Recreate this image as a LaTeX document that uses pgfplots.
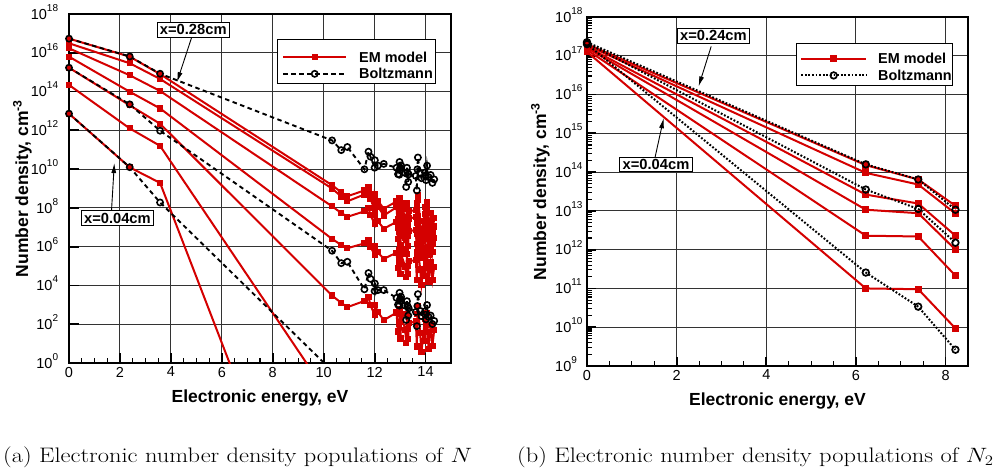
\documentclass[border=0pt]{standalone}
\usepackage{fontspec}
\usepackage{pgfplots}
\pgfplotsset{compat=1.18}
\usepackage{pgfplotstable}
\usetikzlibrary{arrows.meta}
\newfontfamily\hv{Liberation Sans}
\definecolor{emred}{RGB}{212,0,0}
% tick label of the form 10^k, set in text font
\newcommand{\tl}[1]{10\raisebox{7.8pt}{\fontsize{10}{10}\selectfont #1}}

% N atom: level energy (eV) and log10 of number density (cm^-3)
\pgfplotstableread{
E     B1    B2    C1    C2    C3    C4    C5
0.000 16.73 15.23 16.73 16.49 16.23 15.80 15.23
2.384 15.81 13.34 15.80 15.46 14.84 13.99 13.29
3.576 14.92 11.98 14.90 14.65 14.03 13.13 12.34
10.33 11.48 5.79  9.17  9.00  8.08  6.40  3.48
10.69 10.98 5.15  8.81  8.59  7.74  6.09  3.10
10.93 11.14 5.22  8.60  8.34  7.54  5.92  2.88
11.60 9.99  3.80  8.90  8.69  7.82  6.17  3.20
11.76 10.90 4.64  9.08  8.90  7.99  6.32  3.39
11.84 10.64 4.34  8.69  8.45  7.62  5.99  2.98
12.00 10.07 3.71  8.22  7.91  7.18  5.59  2.48
12.01 10.46 4.10  8.72  8.48  7.65  6.02  3.01
12.13 10.18 3.76  8.36  8.07  7.31  5.71  2.63
12.36 10.27 3.76  7.96  7.61  6.93  5.37  2.21
12.86 10.07 3.36  8.33  8.03  7.28  5.69  2.60
12.92 9.74  3.01  7.40  6.96  6.40  4.90  1.62
12.97 9.71  2.96  7.78  7.40  6.76  5.22  2.02
12.98 10.37 3.62  8.48  8.21  7.42  5.81  2.76
13.00 10.06 3.30  7.87  7.50  6.84  5.29  2.11
13.02 9.98  3.21  7.06  6.57  6.08  4.61  1.26
13.04 10.19 3.41  8.25  7.94  7.21  5.62  2.51
13.20 9.80  2.96  7.48  7.06  6.47  4.96  1.71
13.24 9.08  2.22  6.86  6.34  5.89  4.44  1.05
13.27 10.07 3.19  8.25  7.94  7.21  5.62  2.51
13.29 9.83  2.95  7.54  7.13  6.53  5.01  1.77
13.32 9.34  2.45  7.02  6.53  6.04  4.57  1.22
13.34 9.73  2.82  7.82  7.45  6.80  5.25  2.06
13.62 9.65  2.63  7.89  7.53  6.86  5.31  2.14
13.66 8.90  1.90  6.67  6.12  5.70  4.27  0.85
13.68 9.99  2.94  8.26  7.95  7.22  5.63  2.52
13.70 10.60 3.55  8.65  8.40  7.59  5.96  2.93
13.79 9.78  2.69  7.31  6.86  6.31  4.82  1.53
13.84 9.53  2.42  6.39  5.80  5.44  4.04  0.56
13.98 9.82  2.66  8.03  7.69  7.00  5.43  2.28
14.00 9.66  2.49  6.92  6.41  5.94  4.49  1.12
14.02 9.43  2.25  7.71  7.32  6.69  5.16  1.95
14.06 10.18 2.99  8.29  7.99  7.24  5.65  2.56
14.12 9.59  2.38  6.56  6.00  5.60  4.18  0.74
14.20 9.70  2.45  7.73  7.34  6.71  5.18  1.97
14.27 9.29  2.01  6.70  6.16  5.73  4.30  0.89
14.34 9.47  2.17  7.47  7.04  6.46  4.95  1.69
}\atomN

% N atom, lowest populations (leave the plot range after 3.6 eV)
\pgfplotstableread{
E     B3    C6    C7
0.000 12.86 14.34 12.86
2.384 10.10 12.10 10.09
3.576 8.28  11.20 9.29
10.33 -0.40 -1.96 -13.70
}\atomNlow

% N2 molecule: level energy (eV) and log10 of number density (cm^-3)
\pgfplotstableread{
E    B1    B2    B3    R1    R2    R3    R4    R5    R6
0.00 17.35 17.33 17.30 17.30 17.27 17.23 17.20 17.15 17.10
6.22 14.20 13.55 11.41 14.18 13.98 13.42 13.03 12.36 11.00
7.39 13.81 13.05 10.53 13.81 13.68 13.19 12.94 12.34 10.98
8.22 13.03 12.18 9.42  13.13 12.93 12.36 12.00 11.33 9.97
}\molN

\pgfplotsset{
  emline/.style={color=emred, line width=2pt, mark=square*,
    mark size=2.6pt, mark options={solid, line width=1pt}},
  emlineb/.style={color=emred, line width=2pt, mark=square*,
    mark size=2.9pt, mark options={solid, line width=1pt}},
  bzdash/.style={black, line width=1.9pt, dash pattern=on 4.5pt off 3.5pt,
    mark=o, mark size=3.1pt, mark options={solid, line width=1.6pt}},
  bzdot/.style={black, line width=2pt, dash pattern=on 1.8pt off 1.8pt,
    mark=o, mark size=3.3pt, mark options={solid, line width=1.7pt}},
}
\tikzset{
  tagbox/.style={draw=black, line width=0.9pt, fill=white, inner xsep=3pt,
    inner ysep=2.2pt, text height=10.5pt, text depth=0pt,
    font=\hv\bfseries\fontsize{14.7}{16}\selectfont},
  tagarrow/.style={line width=0.9pt, -{Latex[length=10pt,width=5pt]}},
}

\begin{document}
\begin{tikzpicture}
\path[use as bounding box] (0,0) rectangle (998pt,472pt);

% ---------------- (a) N ----------------
\begin{axis}[
  scale only axis, ymode=log, anchor=south west,
  at={(69pt,109pt)}, width=382pt, height=349pt,
  tick align=inside, tick pos=left,
  axis line style={line width=1.8pt},
  grid=major, major grid style={black!80, line width=1pt},
  major tick style={black, line width=1.8pt},
  minor tick style={black, line width=1.1pt},
  major tick length=10pt, minor tick length=5pt,
  ticklabel style={font=\hv\fontsize{14.5}{16}\selectfont},
  xticklabel style={anchor=north, inner sep=0pt, yshift=-3.7pt},
  xmin=0, xmax=15, ymin=1, ymax=1e18,
  xtick={0,2,4,6,8,10,12,14}, xticklabels={0,2,4,6,8,10,12,14},
  minor x tick num=3,
  ytick={1,1e2,1e4,1e6,1e8,1e10,1e12,1e14,1e16,1e18},
  yticklabels={\tl{0},\tl{2},\tl{4},\tl{6},\tl{8},\tl{10},\tl{12},\tl{14},\tl{16},\tl{18}},
  yminorticks=false,
  yticklabel style={anchor=base east, inner sep=0pt, xshift=-10.7pt, yshift=-5.2pt},
  legend cell align=left,
  legend style={draw=none, fill=none, anchor=north west, inner sep=0pt,
    at={(rel axis cs:0.5576,0.892)},
    row sep=6.5pt, column sep=12pt,
    nodes={inner sep=0pt, text height=10.3pt, text depth=0pt,
      font=\hv\bfseries\fontsize{14.4}{16}\selectfont}},
  legend image code/.code={\draw[mark repeat=2,mark phase=2]
    plot coordinates {(0pt,0pt) (31.5pt,0pt) (63pt,0pt)};},
]
\addplot[emline] table[x=E, y expr=10^(\thisrow{C1})] {\atomN};
\addlegendentry{EM model}
\addplot[emline, forget plot] table[x=E, y expr=10^(\thisrow{C2})] {\atomN};
\addplot[emline, forget plot] table[x=E, y expr=10^(\thisrow{C3})] {\atomN};
\addplot[emline, forget plot] table[x=E, y expr=10^(\thisrow{C4})] {\atomN};
\addplot[emline, forget plot] table[x=E, y expr=10^(\thisrow{C5})] {\atomN};
\addplot[emline, forget plot] table[x=E, y expr=10^(\thisrow{C6})] {\atomNlow};
\addplot[emline, forget plot] table[x=E, y expr=10^(\thisrow{C7})] {\atomNlow};
\addplot[bzdash] table[x=E, y expr=10^(\thisrow{B1})] {\atomN};
\addlegendentry{Boltzmann}
\addplot[bzdash, forget plot] table[x=E, y expr=10^(\thisrow{B2})] {\atomN};
\addplot[bzdash, forget plot] table[x=E, y expr=10^(\thisrow{B3})] {\atomNlow};
\draw[fill=white, line width=0.9pt] (rel axis cs:0.5445,0.9275) rectangle (rel axis cs:0.958,0.8014);
\draw[tagarrow] (axis cs:4.82,6.46e16) -- (axis cs:4.24,3.09e14);
\node[tagbox] at (axis cs:4.88,1.58e17) {x=0.28cm};
\draw[tagarrow] (axis cs:1.67,7.59e7) -- (axis cs:1.78,2.04e10);
\node[tagbox] at (axis cs:1.90,2.88e7) {x=0.04cm};
\end{axis}

% ---------------- (b) N2 ----------------
\begin{axis}[
  scale only axis, ymode=log, anchor=south west,
  at={(587pt,106pt)}, width=381pt, height=349pt,
  tick align=inside, tick pos=left,
  axis line style={line width=1.8pt},
  grid=major, major grid style={black!80, line width=1pt},
  major tick style={black, line width=1.8pt},
  minor tick style={black, line width=1.1pt},
  major tick length=9pt, minor tick length=5pt,
  ticklabel style={font=\hv\fontsize{14.5}{16}\selectfont},
  xticklabel style={anchor=north, inner sep=0pt, yshift=-3.7pt},
  xmin=0, xmax=8.5, ymin=1e9, ymax=1e18,
  xtick={0,2,4,6,8}, xticklabels={0,2,4,6,8},
  minor x tick num=3,
  ytick={1e9,1e10,1e11,1e12,1e13,1e14,1e15,1e16,1e17,1e18},
  yticklabels={\tl{9},\tl{10},\tl{11},\tl{12},\tl{13},\tl{14},\tl{15},\tl{16},\tl{17},\tl{18}},
  yticklabel style={anchor=base west, inner sep=0pt, xshift=-32pt, yshift=-5.2pt},
  legend cell align=left,
  legend style={draw=none, fill=none, anchor=north west, inner sep=0pt,
    at={(rel axis cs:0.559,0.896)},
    row sep=6.5pt, column sep=11pt,
    nodes={inner sep=0pt, text height=10.3pt, text depth=0pt,
      font=\hv\bfseries\fontsize{14.4}{16}\selectfont}},
  legend image code/.code={\draw[mark repeat=2,mark phase=2]
    plot coordinates {(0pt,0pt) (32.5pt,0pt) (65pt,0pt)};},
]
\addplot[emlineb] table[x=E, y expr=10^(\thisrow{R1})] {\molN};
\addlegendentry{EM model}
\addplot[emlineb, forget plot] table[x=E, y expr=10^(\thisrow{R2})] {\molN};
\addplot[emlineb, forget plot] table[x=E, y expr=10^(\thisrow{R3})] {\molN};
\addplot[emlineb, forget plot] table[x=E, y expr=10^(\thisrow{R4})] {\molN};
\addplot[emlineb, forget plot] table[x=E, y expr=10^(\thisrow{R5})] {\molN};
\addplot[emlineb, forget plot] table[x=E, y expr=10^(\thisrow{R6})] {\molN};
\addplot[bzdot] table[x=E, y expr=10^(\thisrow{B1})] {\molN};
\addlegendentry{Boltzmann}
\addplot[bzdot, forget plot] table[x=E, y expr=10^(\thisrow{B2})] {\molN};
\addplot[bzdot, forget plot] table[x=E, y expr=10^(\thisrow{B3})] {\molN};
\draw[fill=white, line width=0.9pt] (rel axis cs:0.5504,0.9246) rectangle (rel axis cs:0.9588,0.8052);
\draw[tagarrow] (axis cs:2.77,1.74e17) -- (axis cs:2.49,1.62e16);
\node[tagbox] at (axis cs:2.82,3.31e17) {x=0.24cm};
\draw[tagarrow] (axis cs:1.52,2.45e14) -- (axis cs:1.71,2.45e15);
\node[tagbox] at (axis cs:1.54,1.58e14) {x=0.04cm};
\end{axis}

% axis titles
\node[rotate=90, anchor=base, font=\hv\bfseries\fontsize{17.5}{20}\selectfont]
  at (28pt,283.5pt) {Number density, cm\textsuperscript{-3}};
\node[anchor=base, font=\hv\bfseries\fontsize{17.5}{20}\selectfont]
  at (260pt,69.3pt) {Electronic energy, eV};
\node[rotate=90, anchor=base, font=\hv\bfseries\fontsize{17.5}{20}\selectfont]
  at (546pt,280.5pt) {Number density, cm\textsuperscript{-3}};
\node[anchor=base, font=\hv\bfseries\fontsize{17.5}{20}\selectfont]
  at (777.5pt,67pt) {Electronic energy, eV};

% sub-captions
\node[anchor=base west, font=\fontsize{21}{25}\selectfont, inner sep=0pt, xscale=1.165]
  at (3pt,9.3pt) {(a) Electronic number density populations of $N$};
\node[anchor=base west, font=\fontsize{21}{25}\selectfont, inner sep=0pt, xscale=1.165]
  at (517pt,9.3pt) {(b) Electronic number density populations of $N_2$};
\end{tikzpicture}
\end{document}
